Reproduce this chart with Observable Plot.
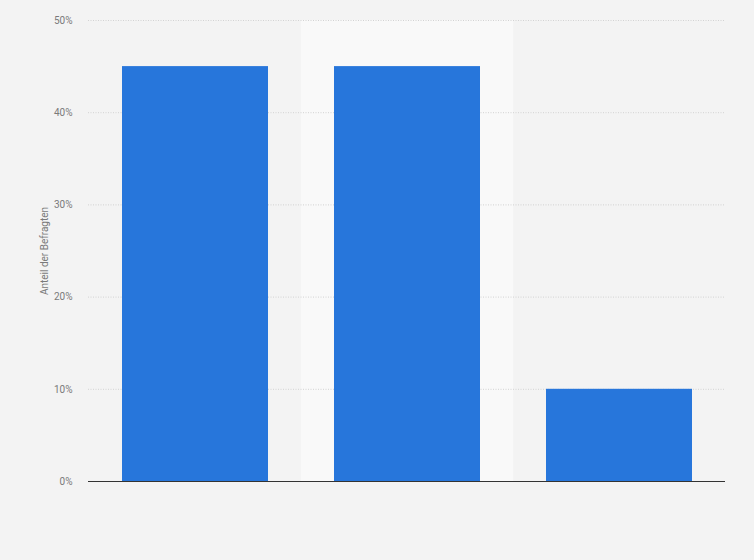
<!DOCTYPE html>
<html>
<head>
<meta charset="utf-8">
<script src="https://cdn.jsdelivr.net/npm/d3@7"></script>
<script src="https://cdn.jsdelivr.net/npm/@observablehq/plot@0.6"></script>
<style>
  html, body { margin: 0; padding: 0; background: #f3f3f3; }
  #chart svg { display: block; }
</style>
</head>
<body>
<div id="chart"></div>
<script>
const categories = ["Kategorie 1", "Kategorie 2", "Kategorie 3"];
const values = [45, 45, 10];
const yTicks = [0, 10, 20, 30, 40, 50];
const highlighted = ["Kategorie 2"];
const yMax = 50;

const data = categories.map((c, i) => ({cat: c, v: values[i]}));
const hl = highlighted.map(c => ({cat: c, v: yMax}));

const chart = Plot.plot({
  width: 754,
  height: 560,
  marginLeft: 88,
  marginRight: 29,
  marginTop: 20,
  marginBottom: 79,
  style: {background: "#f3f3f3", fontFamily: "Roboto, 'Liberation Sans', sans-serif", fontSize: "10px", color: "#777"},
  x: {domain: categories, paddingInner: 0.313, paddingOuter: 0.1565, axis: null},
  y: {domain: [0, yMax], ticks: yTicks},
  marks: [
    Plot.barY(hl, {x: "cat", y: "v", fill: "#f9f9f9", insetLeft: -33.3, insetRight: -33.3}),
    Plot.gridY(yTicks.filter(t => t > 0), {stroke: "#d2d2d2", strokeOpacity: 1, strokeDasharray: "1,1.5"}),
    Plot.axisY({
      ticks: yTicks, tickSize: 0, tickPadding: 16, tickFormat: d => d + "%",
      label: "Anteil der Befragten", labelAnchor: "center", labelOffset: 48, labelArrow: "none",
      fill: "#7a7a7a", fontSize: 10
    }),
    Plot.barY(data, {x: "cat", y: "v", fill: "#2776db"}),
    Plot.ruleY([0], {stroke: "#333", strokeWidth: 1.2})
  ]
});
document.getElementById("chart").appendChild(chart);
</script>
</body>
</html>
